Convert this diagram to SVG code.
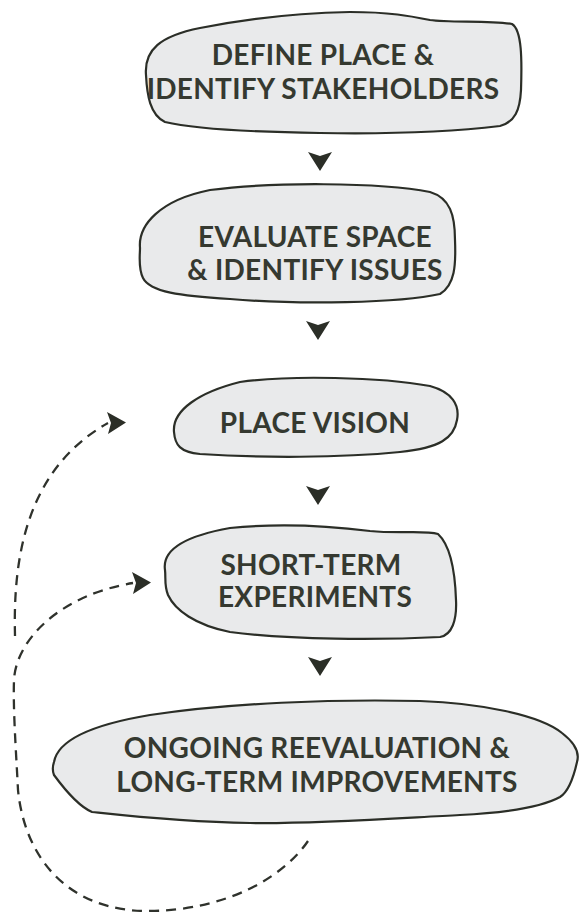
<svg xmlns="http://www.w3.org/2000/svg" width="580" height="912" viewBox="0 0 580 912">
  <defs>
    <style>
      .blob { fill: #e9eaeb; stroke: #2b2e27; stroke-width: 2.2; stroke-linejoin: round; }
      .lbl { font-family: Lato, "Open Sans", "Liberation Sans", sans-serif; font-weight: bold; font-size: 28px; letter-spacing: 0.3px; fill: #353930; text-anchor: middle; }
      .dash { fill: none; stroke: #2f322c; stroke-width: 2.3; stroke-dasharray: 10 7; stroke-linecap: butt; }
      .tri { fill: #2b2e27; }
    </style>
    <marker id="ah" markerUnits="userSpaceOnUse" markerWidth="22" markerHeight="24" refX="1" refY="11" orient="0" overflow="visible">
      <path d="M0,0 L19,10.5 L1,22 L4,11 Z" fill="#2b2e27"/>
    </marker>
    <polygon id="down" points="-12,-9 0,-5 12,-9 0,10"/>
  </defs>
  <rect width="580" height="912" fill="#ffffff"/>

  <g id="connectors">
    <use href="#down" class="tri" x="320" y="161"/>
    <use href="#down" class="tri" x="318" y="330"/>
    <use href="#down" class="tri" x="318" y="495"/>
    <use href="#down" class="tri" x="320" y="666"/>
    <path class="dash" d="M15,636 C13,560 25,470 108,423" marker-end="url(#ah)"/>
    <path class="dash" d="M308,841 C285,875 230,910 150,911 C70,912 25,860 18,790 C16,750 13,710 14,680 C16,640 60,595 133,583" marker-end="url(#ah)"/>
  </g>

  <g id="node-define">
    <path class="blob" d="M146,75 C144,50 160,36 200,28 C250,18 300,13 350,12 C390,12 410,16 430,20 C450,23 490,20 512,24 C522,30 522,60 521,90 C520,110 515,122 500,126 C450,132 380,134 320,133 C250,132 190,128 165,122 C150,115 147,95 146,75 Z"/>
    <text class="lbl" x="323" y="65">DEFINE PLACE &amp;</text>
    <text class="lbl" x="323" y="99">IDENTIFY STAKEHOLDERS</text>
  </g>

  <g id="node-evaluate">
    <path class="blob" d="M140,248 C138,225 160,200 210,190 C270,182 380,182 430,192 C450,198 455,215 455,240 C456,265 455,285 440,294 C400,303 300,305 230,299 C180,296 150,292 143,278 C138,268 140,255 140,248 Z"/>
    <text class="lbl" x="315" y="247">EVALUATE SPACE</text>
    <text class="lbl" x="315" y="280">&amp; IDENTIFY ISSUES</text>
  </g>

  <g id="node-vision">
    <path class="blob" d="M174,432 C172,410 200,392 240,382 C290,375 380,377 430,386 C452,392 460,405 457,420 C454,438 440,448 400,452 C340,458 260,458 200,454 C180,452 175,445 174,432 Z"/>
    <text class="lbl" x="315" y="433">PLACE VISION</text>
  </g>

  <g id="node-experiments">
    <path class="blob" d="M165,570 C162,550 185,536 230,528 C280,523 330,526 370,531 C400,534 425,530 438,534 C450,545 455,570 456,600 C457,620 452,635 440,637 C380,640 290,640 230,632 C195,625 175,610 168,595 C164,585 166,578 165,570 Z"/>
    <text class="lbl" x="311" y="575">SHORT-TERM</text>
    <text class="lbl" x="315" y="607">EXPERIMENTS</text>
  </g>

  <g id="node-ongoing">
    <path class="blob" d="M54,762 C58,740 90,725 150,715 C230,703 330,699 420,701 C480,703 540,715 562,733 C575,743 580,752 577,762 C573,780 568,792 560,797 C540,808 500,813 460,815 C400,818 320,824 250,823 C180,822 120,815 92,812 C78,806 65,790 54,775 C52,770 53,765 54,762 Z"/>
    <text class="lbl" x="317" y="758">ONGOING REEVALUATION &amp;</text>
    <text class="lbl" x="317" y="792">LONG-TERM IMPROVEMENTS</text>
  </g>
</svg>
